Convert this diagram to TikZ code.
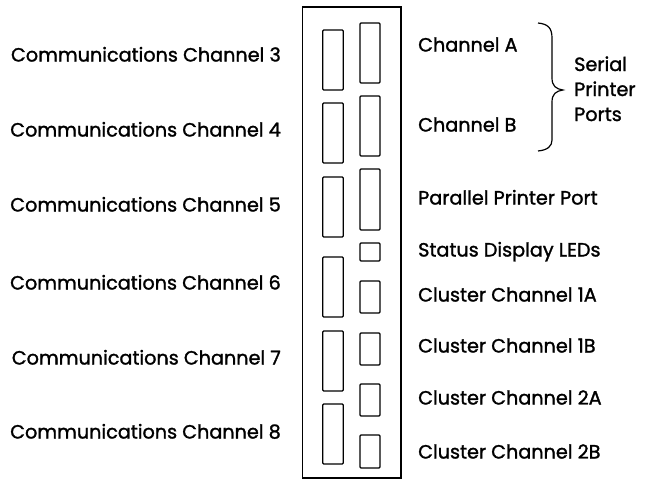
\documentclass[tikz,border=0pt]{standalone}
\usepackage{fontspec}
\setmainfont{Poppins}[FakeBold=1.4]
\begin{document}
\begin{tikzpicture}[x=1pt,y=-1pt,
  lbl/.style={inner sep=0pt,font=\fontsize{19.2}{22}\selectfont},
  port/.style={draw,line width=1.2pt,rounded corners=1pt},
  panel/.style={draw,line width=1.5pt}]
\useasboundingbox (0,0) rectangle (645,479);
% connector panel
\draw[panel] (302.7,7) rectangle (401,478);
% left column of connectors
\draw[port] (322.7,30) rectangle (343.3,90);
\draw[port] (322.7,103) rectangle (343.3,163);
\draw[port] (322.7,177) rectangle (343.3,237);
\draw[port] (322.7,257) rectangle (343.3,317);
\draw[port] (322.7,331) rectangle (343.3,391);
\draw[port] (322.7,404) rectangle (343.3,464);
% right column of connectors
\draw[port] (360,23) rectangle (380,83);
\draw[port] (360,96) rectangle (380,156);
\draw[port] (360,169) rectangle (380,230);
\draw[port] (360,243) rectangle (380,261);
\draw[port] (360,281) rectangle (380,313);
\draw[port] (360,333) rectangle (380,365);
\draw[port] (360,384) rectangle (380,416);
\draw[port] (360,435) rectangle (380,468);
% left labels
\node[lbl,anchor=base east] (c3) at (281,61.5) {Communications Channel 3};
\node[lbl,anchor=base east] (c4) at (281,136.5) {Communications Channel 4};
\node[lbl,anchor=base east] (c5) at (281,211.5) {Communications Channel 5};
\node[lbl,anchor=base east] (c6) at (281,289.5) {Communications Channel 6};
\node[lbl,anchor=base east] (c7) at (281,364.5) {Communications Channel 7};
\node[lbl,anchor=base east] (c8) at (281,438.5) {Communications Channel 8};
% right labels
\node[lbl,anchor=base west] (ca) at (418,51.5) {Channel A};
\node[lbl,anchor=base west] (cb) at (418,131.5) {Channel B};
\node[lbl,anchor=base west] (pp) at (418,204.5) {Parallel Printer Port};
\node[lbl,anchor=base west] (sd) at (418,256.5) {Status Display LEDs};
\node[lbl,anchor=base west] (k1a) at (418,301.5) {Cluster Channel 1A};
\node[lbl,anchor=base west] (k1b) at (418,352.5) {Cluster Channel 1B};
\node[lbl,anchor=base west] (k2a) at (418,404.5) {Cluster Channel 2A};
\node[lbl,anchor=base west] (k2b) at (418,458.5) {Cluster Channel 2B};
% brace grouping the serial ports
\draw[line width=1.2pt]
  (538,23) .. controls (548,24) and (552,28) .. (552,38)
  -- (552,78) .. controls (552,86) and (556,89) .. (563,90)
  .. controls (556,91) and (552,94) .. (552,102)
  -- (552,140) .. controls (552,146) and (548,150) .. (538,151);
\node[lbl,anchor=base west] (s1) at (574,71) {Serial};
\node[lbl,anchor=base west] (s2) at (574,96) {Printer};
\node[lbl,anchor=base west] (s3) at (574,121) {Ports};
\end{tikzpicture}
\end{document}
